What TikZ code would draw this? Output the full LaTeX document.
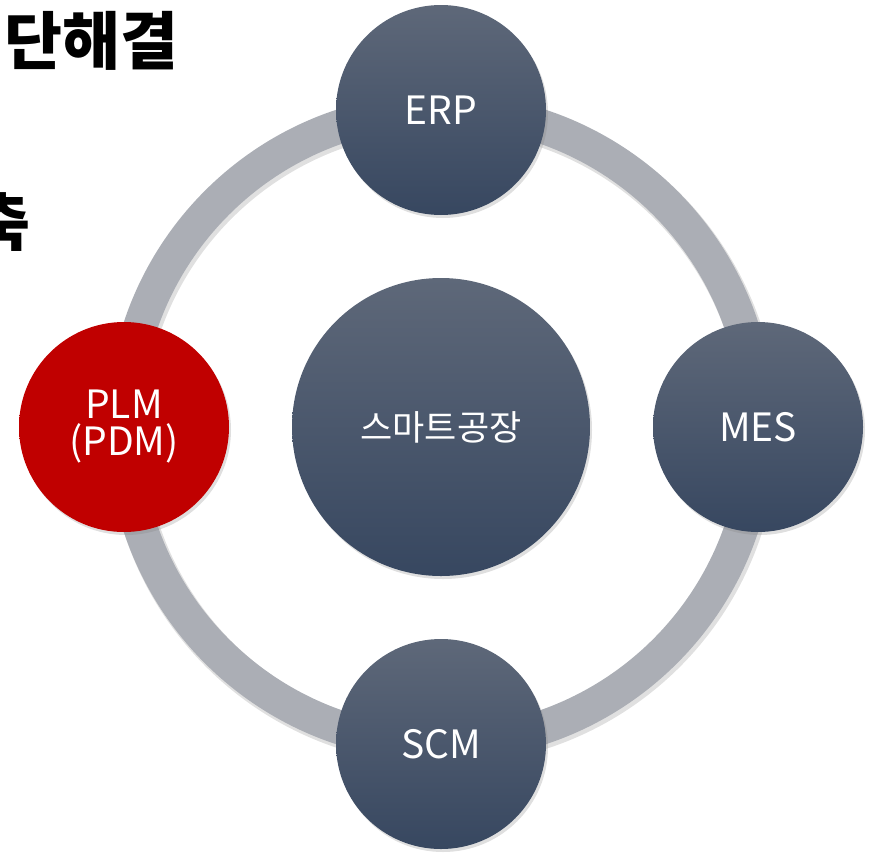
\documentclass[tikz,border=0pt]{standalone}
\usepackage{fontspec}
\setmainfont{Noto Sans CJK KR}
\usetikzlibrary{positioning,shadows}
\definecolor{navytop}{HTML}{5E6879}
\definecolor{navybot}{HTML}{374760}
\definecolor{ringgray}{HTML}{ABAEB5}
\definecolor{plmred}{HTML}{C00000}
\begin{document}
\begin{tikzpicture}[x=1pt, y=-1pt, node distance={317pt},
    main/.style = {circle, minimum size=210pt, inner sep=0pt, text=white,
        top color=navytop, bottom color=navybot,
        drop shadow={opacity=0.25, shadow xshift=2pt, shadow yshift=-3pt},
        font=\fontsize{39}{37}\selectfont, align=center},
    hub/.style = {main, minimum size=298pt, font=\fontsize{35}{37}\selectfont},
    ring/.style = {draw=ringgray, line width=34pt}]
    \useasboundingbox (0,0) rectangle (872,854);
    % title text, cut off by the page edge
    \node[anchor=base west, inner sep=0pt, font=\fontsize{63}{70}\selectfont\bfseries] (title) at (4,64) {단해결};
    \node[anchor=base east, inner sep=0pt, font=\fontsize{63}{70}\selectfont\bfseries] (tail) at (31,245) {축};
    % ring behind the circles
    \coordinate (c) at (441,427);
    \draw[black, opacity=0.12, line width=36pt] ([shift={(2,3)}]c) circle (317pt);
    \draw[ring] (c) circle (317pt);
    \node[hub] (hub) at (c) {스마트공장};
    \node[main] (erp)[above of=hub] {ERP};
    \node[main] (mes)[right of=hub] {MES};
    \node[main] (scm)[below of=hub] {SCM};
    \node[main, top color=plmred, bottom color=plmred] (plm)[left of=hub] {PLM\\(PDM)};
\end{tikzpicture}
\end{document}
